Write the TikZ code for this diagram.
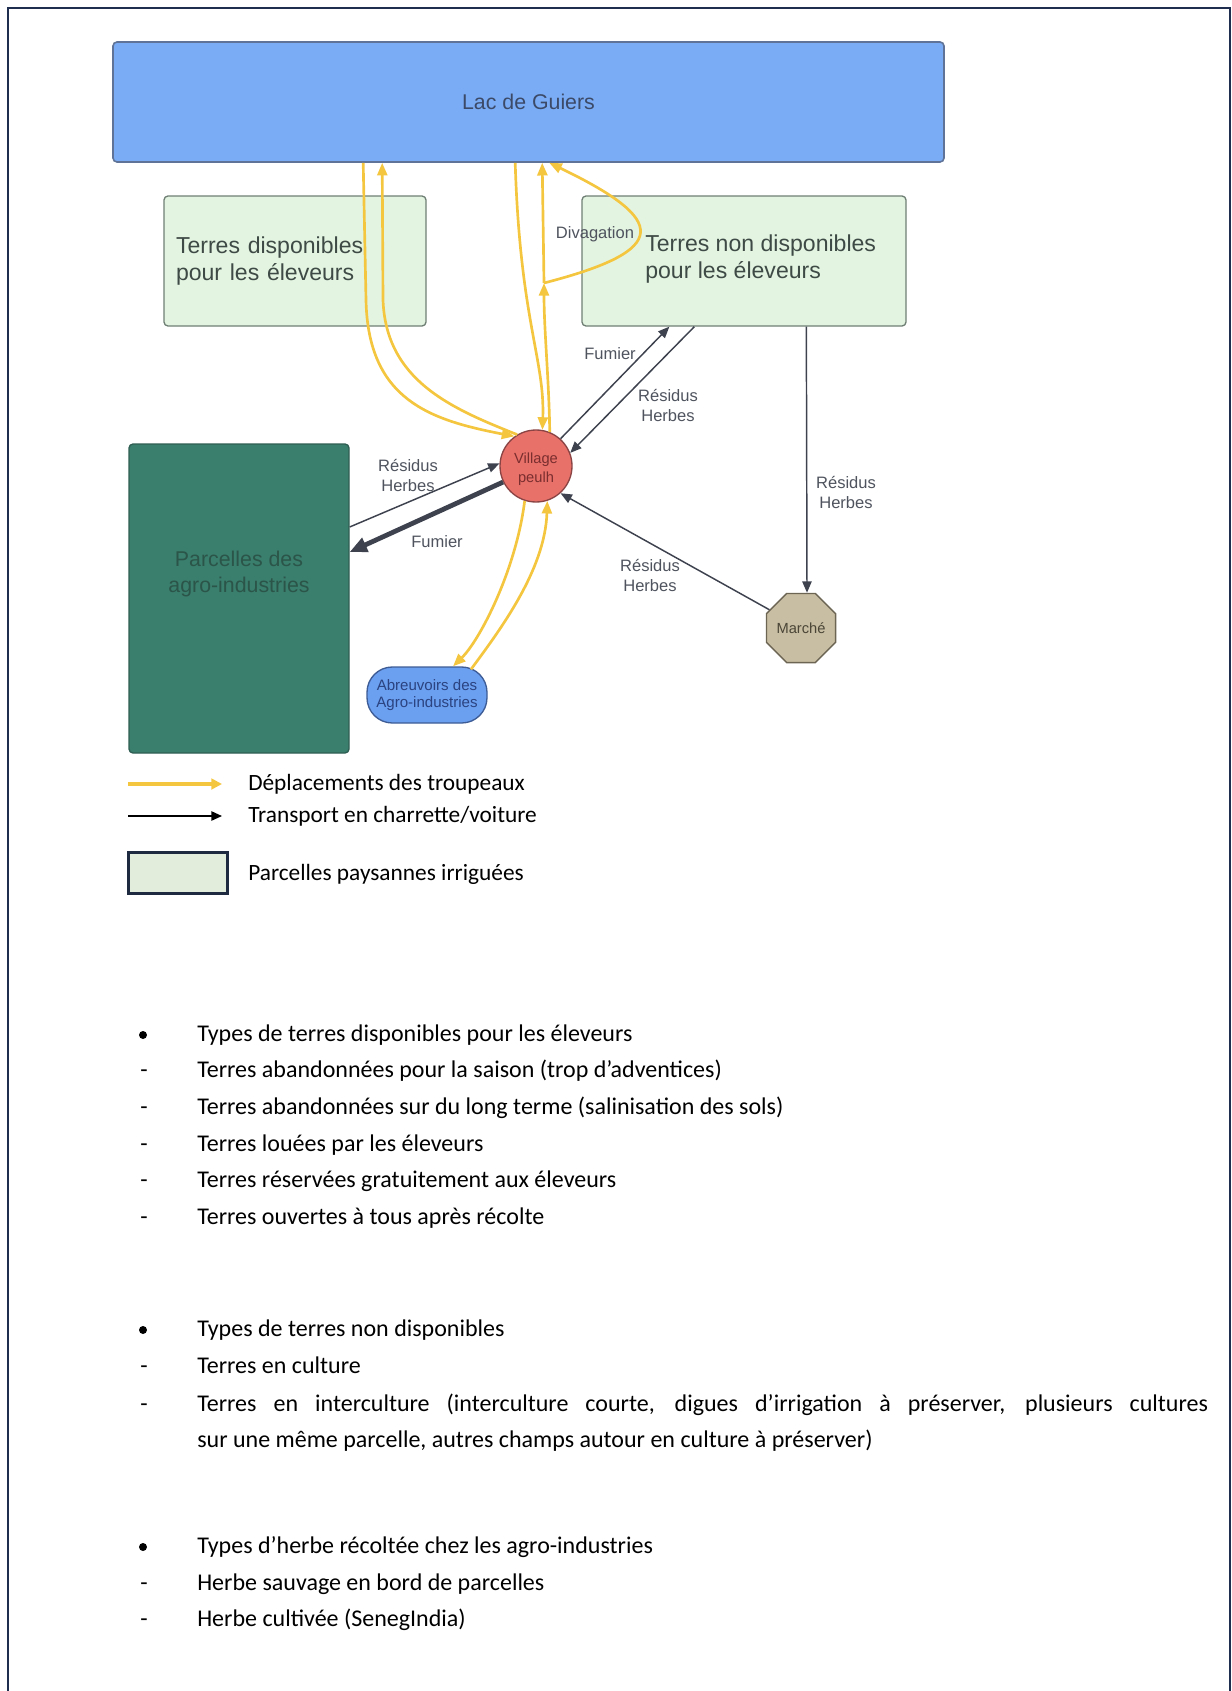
\documentclass[tikz,border=0pt]{standalone}
\usepackage{fontspec}
\setmainfont{Liberation Sans}
\newfontfamily\notefont{Carlito}
\usetikzlibrary{arrows.meta,shapes.geometric,calc}

\definecolor{lakeblue}{HTML}{7AACF5}
\definecolor{lakeedge}{HTML}{5E7397}
\definecolor{laketext}{HTML}{3C4A68}
\definecolor{fieldgreen}{HTML}{E3F4E1}
\definecolor{fieldedge}{HTML}{6F7F74}
\definecolor{fieldtext}{HTML}{3E4A45}
\definecolor{agrogreen}{HTML}{3A7E6E}
\definecolor{agroedge}{HTML}{2E5E52}
\definecolor{agrotext}{HTML}{2B5548}
\definecolor{villagered}{HTML}{E8716A}
\definecolor{villageedge}{HTML}{8B4444}
\definecolor{villagetext}{HTML}{7A2E2E}
\definecolor{marketbeige}{HTML}{C8BEA3}
\definecolor{marketedge}{HTML}{6C6553}
\definecolor{markettext}{HTML}{4A4536}
\definecolor{troughblue}{HTML}{6B9FF0}
\definecolor{troughedge}{HTML}{3D5C96}
\definecolor{troughtext}{HTML}{2B4380}
\definecolor{herdyellow}{HTML}{F4C640}
\definecolor{cartgray}{HTML}{3D424E}
\definecolor{labelgray}{HTML}{4E535D}
\definecolor{framenavy}{HTML}{1F2E4F}
\definecolor{legendedge}{HTML}{1E2A40}
\definecolor{legendgreen}{HTML}{E2EEDB}

\tikzset{
  sz/.style 2 args={minimum width=#1*0.75pt, minimum height=#2*0.75pt},
  bigfont/.style={font=\fontsize{16}{20}\selectfont},
  fieldfont/.style={font=\fontsize{17.3}{20}\selectfont},
  lake/.style={draw=lakeedge, line width=1.2pt, fill=lakeblue, rounded corners=3pt,
    text=laketext, bigfont},
  field/.style={draw=fieldedge, line width=1pt, fill=fieldgreen, rounded corners=3pt,
    text=fieldtext, fieldfont},
  agro/.style={draw=agroedge, line width=1pt, fill=agrogreen, rounded corners=3pt},
  agroname/.style={text=agrotext, bigfont, align=center, inner sep=0pt},
  village/.style={circle, draw=villageedge, line width=1pt, fill=villagered, inner sep=0pt},
  villagename/.style={text=villagetext, font=\fontsize{11}{14}\selectfont, align=center,
    inner sep=0pt},
  market/.style={regular polygon, regular polygon sides=8, draw=marketedge, line width=1pt,
    fill=marketbeige, text=markettext, font=\fontsize{11}{13}\selectfont, inner sep=0pt},
  trough/.style={draw=troughedge, line width=1pt, fill=troughblue, rounded corners=19pt,
    text=troughtext, font=\fontsize{11.3}{13}\selectfont, align=center, inner sep=0pt},
  flowlabel/.style={font=\fontsize{12.4}{15}\selectfont, text=labelgray, align=center,
    inner sep=0pt},
  herd/.style={draw=herdyellow, line width=2pt, -{Triangle[length=9.5pt,width=7.5pt]}},
  herdline/.style={draw=herdyellow, line width=2pt},
  cart/.style={draw=cartgray, line width=1.1pt, -{Triangle[length=8.5pt,width=7pt]}},
  heavycart/.style={draw=cartgray, line width=3.6pt, -{Triangle[length=13pt,width=11pt]}},
  frameline/.style={draw=framenavy, line width=1.9pt},
  legendtext/.style={anchor=west, inner sep=0pt, font=\notefont\fontsize{17.5}{21}\selectfont},
  notetext/.style={anchor=west, inner sep=0pt, text height=13pt, text depth=4pt,
    font=\notefont\fontsize{18}{22}\selectfont},
  bulletdot/.style={circle, fill=black, inner sep=0pt, minimum size=6pt},
}

\begin{document}
\begin{tikzpicture}[x=0.75pt, y=-0.75pt]
\useasboundingbox (0,0) rectangle (1231,1691);

% page frame (open at the bottom)
\draw[frameline] (8,1695) -- (8,8) -- (1230,8) -- (1230,1695);

% ---------- places ----------
\node[lake, sz={831}{120}] (lac) at (528.5,102) {Lac de Guiers};
\node[field, sz={262}{130}, align=left, text width=238*0.75pt] (tdisp) at (295,261)
  {Terres disponibles\\pour les éleveurs};
\node[field, sz={324}{130}] (tnon) at (744,261) {};
\node[fieldfont, text=fieldtext, anchor=west, align=left, inner sep=0pt] (tnonname)
  at (645,259) {Terres non disponibles\\pour les éleveurs};
\node[village, minimum size=72*0.75pt] (village) at (536,466) {};
\node[villagename] (villagename) at (536,469) {Village\\peulh};
\node[agro, sz={220}{309}] (agro) at (239,598.5) {};
\node[agroname] (agroname) at (239,574) {Parcelles des\\agro-industries};
\node[trough, sz={120}{56}] (trough) at (427,695) {Abreuvoirs des\\Agro-industries};
\node[market, minimum size=68*0.75pt] (market) at (801,628) {Marché};

% ---------- herd movements ----------
\coordinate (lacA) at ($(lac.south west)+(251,0)$);
\coordinate (lacB) at ($(lac.south west)+(270,0)$);
\coordinate (lacC) at ($(lac.south west)+(403,0)$);
\coordinate (lacD) at ($(lac.south west)+(430,0)$);
\coordinate (lacE) at ($(lac.south west)+(437,0)$);
\coordinate (roam) at (544,283);
\coordinate (troughIn) at ($(trough.north)+(26,0)$);
\coordinate (troughOut) at ($(trough.north)+(44,3)$);

\draw[herd] (lacA) -- (366,300) .. controls (368,400) and (430,420) .. (village.126);
\draw[herd] (village.121) .. controls (450,408) and (386,380) .. (383,300) -- (lacB);
\draw[herd] (lacC) .. controls (520,320) and (545,360) .. (village.80);
\draw[herd] (village.68) .. controls (549,380) and (544,330) .. (roam);
\draw[herd] (roam) -- (lacD);
\draw[herd] (roam) .. controls (672,250) and (668,220) .. (lacE);
\draw[herd] (village.-108) .. controls (516,570) and (480,640) .. (troughIn);
\draw[herd] (troughOut) .. controls (500,630) and (545,570) .. (village.-72);

% ---------- cart transport ----------
\coordinate (agroIn) at ($(agro.east)+(0,-71.5)$);
\coordinate (agroOut) at ($(agro.east)+(0,-46.5)$);
\coordinate (tnonIn) at ($(tnon.south west)+(88,0)$);
\coordinate (tnonOut) at ($(tnon.south west)+(113,0)$);
\coordinate (tnonMarket) at ($(tnon.south west)+(225,0)$);
\coordinate (marketTop) at ($(market.north)+(6,0)$);

\draw[cart] (agroIn) -- (village.176);
\draw[heavycart] (village.206) -- (agroOut);
\draw[cart] (village.48) -- (tnonIn);
\draw[cart] (tnonOut) -- (village.21);
\draw[cart] (tnonMarket) -- (marketTop);
\draw[cart] (market.150) -- (village.-48);

% ---------- flow labels ----------
\node[flowlabel] (lDiv) at (595,234) {Divagation};
\node[flowlabel] (lFum1) at (610,354) {Fumier};
\node[flowlabel] (lRes1) at (668,405) {Résidus\\Herbes};
\node[flowlabel] (lRes2) at (846,492) {Résidus\\Herbes};
\node[flowlabel] (lRes3) at (650,575) {Résidus\\Herbes};
\node[flowlabel] (lRes4) at (408,475) {Résidus\\Herbes};
\node[flowlabel] (lFum2) at (437,542) {Fumier};

% ---------- legend ----------
\coordinate (lgA1) at (128,784);
\coordinate (lgA2) at (222,784);
\coordinate (lgB1) at (128,816);
\coordinate (lgB2) at (222,816);
\draw[draw=herdyellow, line width=3pt, -{Triangle[length=8pt,width=8pt]}] (lgA1) -- (lgA2);
\draw[draw=black, line width=1.1pt, -{Triangle[length=8pt,width=7pt]}] (lgB1) -- (lgB2);
\node[draw=legendedge, line width=1.6pt, fill=legendgreen, sz={99}{41}] (lgbox) at (178,873) {};
\node[legendtext] (lgtA) at (248,784) {Déplacements des troupeaux};
\node[legendtext] (lgtB) at (248,816) {Transport en charrette/voiture};
\node[legendtext] (lgtC) at (248,874) {Parcelles paysannes irriguées};

% ---------- notes ----------
\node[bulletdot] (d1) at (143,1035) {};
\node[notetext] (t1) at (197,1035) {Types de terres disponibles pour les éleveurs};
\node[notetext] (h11) at (140,1071) {-};
\node[notetext] (t11) at (197,1071) {Terres abandonnées pour la saison (trop d’adventices)};
\node[notetext] (h12) at (140,1108) {-};
\node[notetext] (t12) at (197,1108) {Terres abandonnées sur du long terme (salinisation des sols)};
\node[notetext] (h13) at (140,1145) {-};
\node[notetext] (t13) at (197,1145) {Terres louées par les éleveurs};
\node[notetext] (h14) at (140,1181) {-};
\node[notetext] (t14) at (197,1181) {Terres réservées gratuitement aux éleveurs};
\node[notetext] (h15) at (140,1218) {-};
\node[notetext] (t15) at (197,1218) {Terres ouvertes à tous après récolte};

\node[bulletdot] (d2) at (143,1330) {};
\node[notetext] (t2) at (197,1330) {Types de terres non disponibles};
\node[notetext] (h21) at (140,1367) {-};
\node[notetext] (t21) at (197,1367) {Terres en culture};
\node[notetext] (h22) at (140,1405) {-};
\node[notetext] (t22) at (197,1405) {\makebox[758pt][s]{Terres en interculture (interculture courte, digues d’irrigation à préserver, plusieurs cultures}};
\node[notetext] (t22b) at (197,1441) {sur une même parcelle, autres champs autour en culture à préserver)};

\node[bulletdot] (d3) at (143,1547) {};
\node[notetext] (t3) at (197,1547) {Types d’herbe récoltée chez les agro-industries};
\node[notetext] (h31) at (140,1584) {-};
\node[notetext] (t31) at (197,1584) {Herbe sauvage en bord de parcelles};
\node[notetext] (h32) at (140,1620) {-};
\node[notetext] (t32) at (197,1620) {Herbe cultivée (SenegIndia)};
\end{tikzpicture}
\end{document}
